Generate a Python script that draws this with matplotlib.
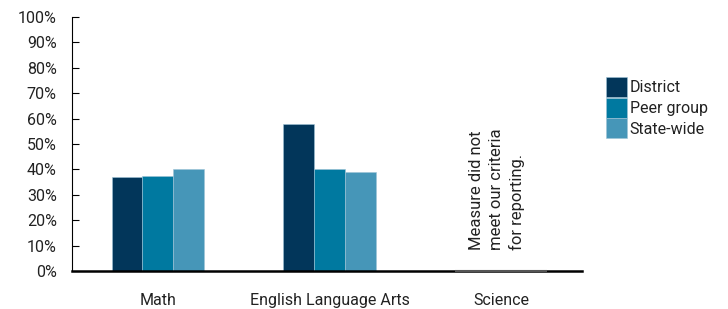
import matplotlib.pyplot as plt
import numpy as np

categories = ['Math', 'English Language Arts', 'Science']
district = [37, 58, 0]
peer_group = [37.5, 40, 0]
state_wide = [40, 39, 0]
series_names = ['District', 'Peer group', 'State-wide']
colors = ['#02365a', '#0079a0', '#4696b8']
note = 'Measure did not\nmeet our criteria\nfor reporting.'

plt.rcParams['font.family'] = ['Roboto', 'DejaVu Sans']

fig = plt.figure(figsize=(7.28, 3.09), dpi=100)
ax = fig.add_axes([0.099, 0.123, 0.70, 0.822])

x = np.arange(len(categories))
w = 0.18
reported = [0, 1]
for i, (vals, name, c) in enumerate(zip([district, peer_group, state_wide], series_names, colors)):
    ax.bar(x[reported] + (i - 1) * w, [vals[j] for j in reported], width=w,
           color=c, edgecolor='#9ec3d6', linewidth=0.4, label=name, zorder=2)

# science: no data, grey baseline segment
ax.bar(x[2] + (np.arange(3) - 1) * w, [0, 0, 0], width=w, color='#555555',
       edgecolor='#555555', linewidth=1.5, zorder=4, clip_on=False)
ax.text(x[2] - 0.025, 8.3, note, rotation=90, ha='center', va='bottom',
        fontsize=12, color='#222222', multialignment='left', linespacing=1.4)

ax.set_xlim(-0.5, 2.47)
ax.set_ylim(0, 100)
ax.set_yticks(range(0, 101, 10))
ax.set_yticklabels([f'{v}%' for v in range(0, 101, 10)], fontsize=11.5, color='#222222')
ax.set_xticks(x)
ax.set_xticklabels(categories, fontsize=11.5, color='#222222')
ax.tick_params(axis='x', length=0, pad=16)
ax.tick_params(axis='y', direction='in', length=5, width=0.8, pad=11)
for s in ['top', 'right']:
    ax.spines[s].set_visible(False)
ax.spines['left'].set_linewidth(0.8)
ax.spines['bottom'].set_linewidth(1.8)
ax.spines['bottom'].set_zorder(3)

leg = ax.legend(loc='upper left', bbox_to_anchor=(1.035, 0.79), frameon=False,
                fontsize=11.5, handlelength=1.3, handleheight=1.55,
                handletextpad=0.2, labelspacing=0.05, borderaxespad=0)
for t in leg.get_texts():
    t.set_color('#222222')

fig.savefig('out.png', dpi=100)
